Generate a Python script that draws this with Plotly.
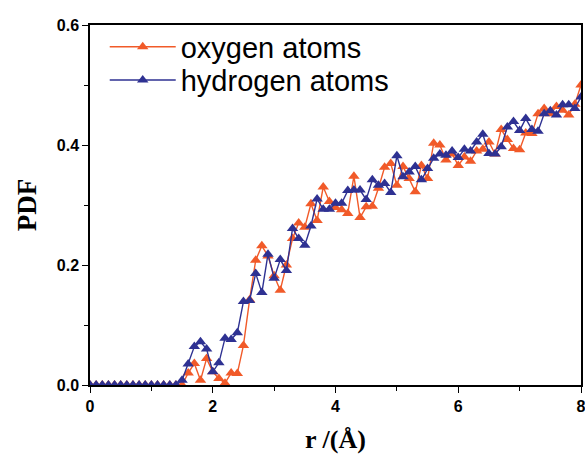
import plotly.graph_objects as go

r_values = [round(i * 0.1, 1) for i in range(81)]

oxygen_pdf = [0.0] * 15 + [
    0.0, 0.02, 0.036, 0.008, 0.044, 0.022, 0.011, 0.003, 0.02, 0.019,
    0.066, 0.142, 0.208, 0.232, 0.215, 0.182, 0.158, 0.2, 0.244, 0.27,
    0.263, 0.302, 0.274, 0.33, 0.306, 0.296, 0.292, 0.286, 0.348, 0.279,
    0.297, 0.298, 0.328, 0.363, 0.369, 0.333, 0.364, 0.344, 0.322, 0.366,
    0.344, 0.403, 0.400, 0.375, 0.385, 0.366, 0.38, 0.373, 0.39, 0.393,
    0.405, 0.385, 0.426, 0.409, 0.394, 0.392, 0.42, 0.419, 0.452, 0.461,
    0.452, 0.464, 0.458, 0.45, 0.468, 0.5,
]

hydrogen_pdf = [0.0] * 15 + [
    0.008, 0.035, 0.064, 0.072, 0.06, 0.022, 0.037, 0.078, 0.076, 0.087,
    0.139, 0.141, 0.186, 0.154, 0.218, 0.178, 0.209, 0.191, 0.261, 0.244,
    0.233, 0.265, 0.31, 0.293, 0.293, 0.303, 0.303, 0.324, 0.325, 0.325,
    0.309, 0.342, 0.333, 0.336, 0.321, 0.382, 0.347, 0.355, 0.364, 0.342,
    0.361, 0.378, 0.385, 0.383, 0.39, 0.379, 0.393, 0.39, 0.405, 0.418,
    0.386, 0.385, 0.397, 0.43, 0.439, 0.424, 0.444, 0.426, 0.423, 0.452,
    0.457, 0.45, 0.467, 0.467, 0.461, 0.48,
]

x_ticks = [0, 2, 4, 6, 8]
y_ticks = [0.0, 0.2, 0.4, 0.6]
y_tick_text = ["0.0", "0.2", "0.4", "0.6"]

ORANGE = "#F15A29"
BLUE = "#2E3192"

fig = go.Figure()
fig.add_trace(go.Scatter(
    x=r_values, y=oxygen_pdf, mode="lines+markers", name="oxygen atoms",
    line=dict(color=ORANGE, width=1.4),
    marker=dict(symbol="triangle-up", size=10, color=ORANGE),
    legend="legend",
))
fig.add_trace(go.Scatter(
    x=r_values, y=hydrogen_pdf, mode="lines+markers", name="hydrogen atoms",
    line=dict(color=BLUE, width=1.4),
    marker=dict(symbol="triangle-up", size=10, color=BLUE),
    legend="legend2",
))

axis_common = dict(
    showline=True, linecolor="black", linewidth=1.5, mirror=True,
    ticks="outside", ticklen=6, tickwidth=1.3, tickcolor="black",
    showgrid=False, zeroline=False, automargin=False, ticklabeloverflow="allow",
    tickfont=dict(family="Liberation Sans, Arial", size=16, color="black", weight="bold"),
)

fig.update_xaxes(
    range=[0, 8], tickvals=x_ticks,
    minor=dict(ticks="outside", ticklen=4, tickwidth=1.3, tickcolor="black", dtick=1),
    title=dict(text="r /(Å)", font=dict(family="Liberation Serif, Times New Roman", size=26,
                                         color="black", weight="bold"), standoff=16),
    **axis_common,
)
fig.update_yaxes(
    range=[0, 0.6], tickvals=y_ticks, ticktext=y_tick_text,
    minor=dict(ticks="outside", ticklen=4, tickwidth=1.3, tickcolor="black", dtick=0.1),
    title=dict(text="PDF", font=dict(family="Liberation Serif, Times New Roman", size=27,
                                      color="black", weight="bold"), standoff=12),
    **axis_common,
)

legend_font = dict(family="Liberation Sans, Arial", size=29, color="black")
fig.update_layout(
    width=585, height=459,
    margin=dict(l=90, r=4, t=25, b=74),
    plot_bgcolor="white", paper_bgcolor="white",
    legend=dict(x=0.03, y=0.939, xanchor="left", yanchor="middle",
                font=legend_font, bgcolor="rgba(0,0,0,0)", itemwidth=66),
    legend2=dict(x=0.03, y=0.847, xanchor="left", yanchor="middle",
                 font=legend_font, bgcolor="rgba(0,0,0,0)", itemwidth=66),
    showlegend=True,
)

fig.write_html("out.html")
